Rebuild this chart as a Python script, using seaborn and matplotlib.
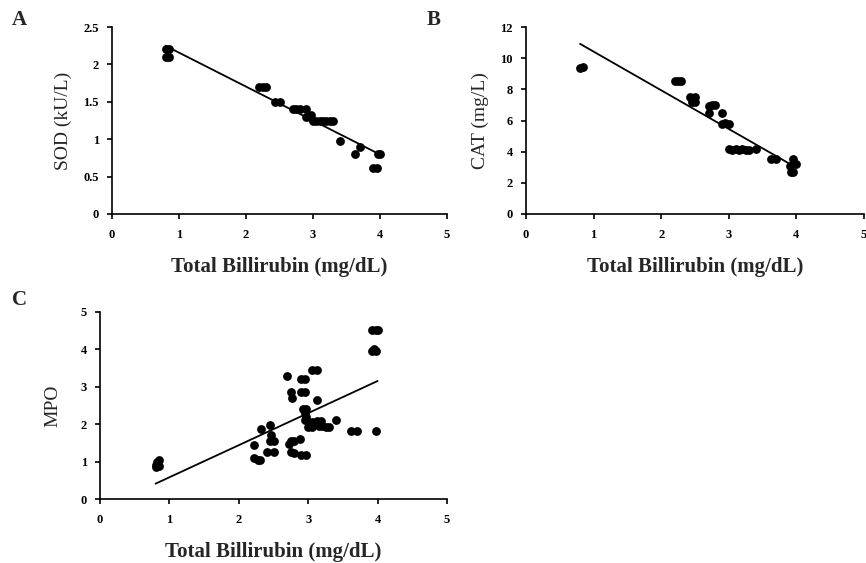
import matplotlib
matplotlib.use("Agg")
import matplotlib.pyplot as plt
import seaborn as sns
import numpy as np
import pandas as pd

# ---- Data ----
sod_bili = [0.80, 0.85, 0.80, 0.85, 2.20, 2.25, 2.30, 2.43, 2.50, 2.70, 2.75, 2.80, 2.90,
            2.90, 2.95, 2.97, 3.00, 3.05, 3.10, 3.15, 3.20, 3.25, 3.30, 3.40, 3.62, 3.70,
            3.97, 4.00, 3.90, 3.95]
sod_vals = [2.20, 2.20, 2.10, 2.10, 1.70, 1.70, 1.70, 1.50, 1.50, 1.40, 1.40, 1.40, 1.40,
            1.30, 1.30, 1.32, 1.24, 1.24, 1.24, 1.24, 1.24, 1.24, 1.24, 0.97, 0.80, 0.90,
            0.80, 0.80, 0.62, 0.62]

cat_bili = [0.80, 0.85, 2.20, 2.25, 2.30, 2.42, 2.50, 2.45, 2.50, 2.70, 2.75, 2.80, 2.70,
            2.90, 2.90, 2.95, 3.00, 3.00, 3.05, 3.10, 3.15, 3.20, 3.25, 3.30, 3.40, 3.62,
            3.70, 3.95, 3.97, 4.00, 3.90, 3.92, 3.95]
cat_vals = [9.40, 9.45, 8.55, 8.55, 8.55, 7.50, 7.50, 7.20, 7.20, 6.90, 7.00, 7.00, 6.50,
            6.50, 5.80, 5.85, 5.80, 4.20, 4.10, 4.20, 4.10, 4.20, 4.10, 4.10, 4.20, 3.50,
            3.50, 3.50, 3.30, 3.20, 3.10, 2.70, 2.70]

mpo_bili = [0.80, 0.82, 0.85, 0.80, 0.85, 2.22, 2.22, 2.27, 2.30, 2.32, 2.45, 2.47, 2.45,
            2.50, 2.40, 2.50, 2.70, 2.75, 2.77, 2.75, 2.72, 2.80, 2.75, 2.80, 2.88, 2.90,
            2.95, 2.90, 2.95, 2.92, 2.97, 2.95, 2.97, 2.95, 2.90, 2.97, 3.05, 3.12, 3.12,
            3.00, 3.05, 3.05, 3.12, 3.18, 3.15, 3.20, 3.25, 3.30, 3.40, 3.62, 3.70, 3.97,
            3.92, 3.97, 3.95, 3.92, 3.97, 4.00]
mpo_vals = [0.90, 1.00, 1.05, 0.85, 0.88, 1.45, 1.10, 1.05, 1.03, 1.88, 1.98, 1.70, 1.55,
            1.55, 1.27, 1.27, 3.28, 2.85, 2.70, 1.55, 1.47, 1.55, 1.25, 1.22, 1.60, 3.20,
            3.20, 2.85, 2.85, 2.40, 2.40, 2.30, 2.20, 2.10, 1.17, 1.17, 3.45, 3.45, 2.65,
            1.92, 1.92, 2.05, 2.08, 2.08, 1.95, 1.95, 1.92, 1.92, 2.10, 1.83, 1.83, 1.83,
            3.95, 3.95, 4.00, 4.52, 4.52, 4.52]

x_label = "Total Billirubin (mg/dL)"
x_ticks = [0, 1, 2, 3, 4, 5]
panels = [
    dict(letter="A", ylabel="SOD (kU/L)", x=sod_bili, y=sod_vals,
         yticks=[0, 0.5, 1, 1.5, 2, 2.5], yticklabels=["0", "0.5", "1", "1.5", "2", "2.5"],
         ylim=(0, 2.5), pos=(112, 447, 27, 214), letter_xy=(12, 25), ylabpad=8),
    dict(letter="B", ylabel="CAT (mg/L)", x=cat_bili, y=cat_vals,
         yticks=[0, 2, 4, 6, 8, 10, 12], yticklabels=["0", "2", "4", "6", "8", "10", "12"],
         ylim=(0, 12), pos=(526, 864, 27, 214), letter_xy=(427, 25), ylabpad=8),
    dict(letter="C", ylabel="MPO", x=mpo_bili, y=mpo_vals,
         yticks=[0, 1, 2, 3, 4, 5], yticklabels=["0", "1", "2", "3", "4", "5"],
         ylim=(0, 5), pos=(100, 447, 312, 499), letter_xy=(12, 305), ylabpad=14),
]

sns.set_style("ticks")
plt.rcParams["font.family"] = ["Liberation Serif", "DejaVu Serif"]

W, H = 866, 563
fig = plt.figure(figsize=(W / 100, H / 100), dpi=100)

for p in panels:
    l, r, t, b = p["pos"]
    ax = fig.add_axes([l / W, 1 - b / H, (r - l) / W, (b - t) / H])
    df = pd.DataFrame({"bili": p["x"], "val": p["y"]})
    sns.regplot(data=df, x="bili", y="val", ax=ax, ci=None, color="black",
                scatter_kws=dict(s=40, linewidths=0, alpha=1),
                line_kws=dict(linewidth=1.3))
    ax.set_xlim(0, 5)
    ax.set_ylim(*p["ylim"])
    ax.set_xticks(x_ticks)
    ax.set_xticklabels([str(v) for v in x_ticks])
    ax.set_yticks(p["yticks"])
    ax.set_yticklabels(p["yticklabels"])
    for s in ["top", "right"]:
        ax.spines[s].set_visible(False)
    for s in ["left", "bottom"]:
        ax.spines[s].set_linewidth(1.2)
        ax.spines[s].set_color("black")
    ax.tick_params(axis="both", direction="out", length=3.5, width=1.2, colors="black",
                   labelsize=9)
    ax.tick_params(axis="x", pad=7)
    ax.tick_params(axis="y", pad=6)
    for lab in ax.get_xticklabels() + ax.get_yticklabels():
        lab.set_fontweight("bold")
    ax.set_xlabel(x_label, fontsize=15, fontweight="bold", labelpad=12)
    ax.set_ylabel(p["ylabel"], fontsize=14, labelpad=p["ylabpad"])
    ax.set_facecolor("white")
    fig.text(p["letter_xy"][0] / W, 1 - p["letter_xy"][1] / H, p["letter"],
             fontsize=15, fontweight="bold", ha="left", va="baseline")

fig.savefig("out.png", dpi=100, facecolor="white")
